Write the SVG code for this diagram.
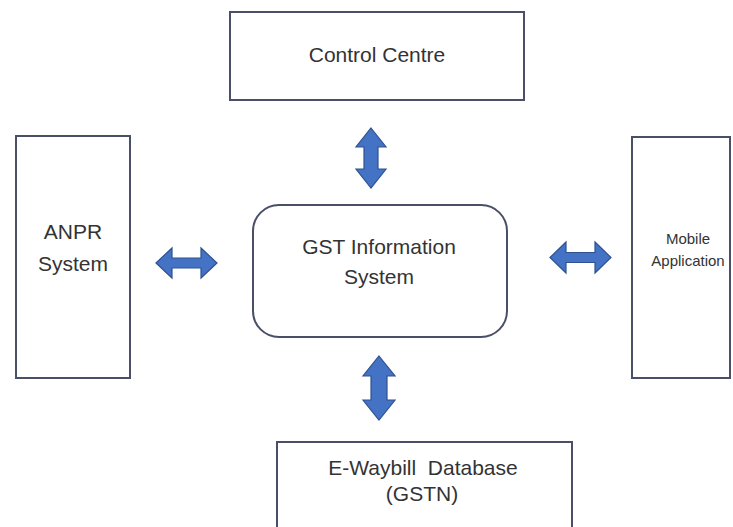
<svg xmlns="http://www.w3.org/2000/svg" width="733" height="527" viewBox="0 0 733 527">
<style>
.box{fill:#ffffff;stroke:#4a4f68;stroke-width:2}
.t{font-family:"Liberation Sans",Arial,sans-serif;font-size:21px;fill:#333333;text-anchor:middle}
.s{font-size:15px}
.arr{fill:#4472c4;stroke:#2f528f;stroke-width:1.2;stroke-linejoin:miter}
</style>
<rect width="733" height="527" fill="#ffffff"/>
<g id="control-centre">
<rect class="box" x="230" y="12" width="294" height="88"/>
<text class="t" x="377" y="62">Control Centre</text>
</g>
<g id="anpr">
<rect class="box" x="16" y="136" width="114" height="242"/>
<text class="t" x="73" y="239">ANPR</text>
<text class="t" x="73" y="271">System</text>
</g>
<g id="gst">
<rect class="box" x="253" y="205" width="254" height="132" rx="26" ry="26"/>
<text class="t" x="379" y="254">GST Information</text>
<text class="t" x="379" y="284">System</text>
</g>
<g id="mobile">
<rect class="box" x="632" y="137" width="98" height="241"/>
<text class="t s" x="688" y="244">Mobile</text>
<text class="t s" x="688" y="266">Application</text>
</g>
<g id="ewaybill">
<rect class="box" x="277" y="442" width="295" height="100"/>
<text class="t" x="423" y="475" xml:space="preserve">E-Waybill  Database</text>
<text class="t" x="422" y="501">(GSTN)</text>
</g>
<g id="connectors">
<polygon class="arr" points="371,128 386,147 378,147 378,169 386,169 371,188 356,169 364,169 364,147 356,147"/>
<polygon class="arr" points="156,263 172,248 172,258 201,258 201,248 217,263 201,278 201,268 172,268 172,278"/>
<polygon class="arr" points="550,257.5 566,242 566,252.5 595,252.5 595,242 611,257.5 595,273 595,262.5 566,262.5 566,273"/>
<polygon class="arr" points="379,356 395,376 387,376 387,400 395,400 379,420 363,400 371,400 371,376 363,376"/>
</g>
</svg>
